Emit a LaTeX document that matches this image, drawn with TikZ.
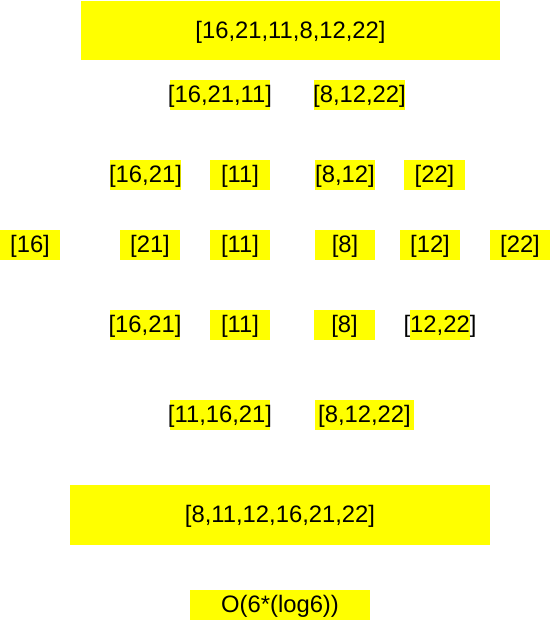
\documentclass[tikz,border=0pt]{standalone}
\usepackage{fontspec}
\setmainfont{Liberation Sans}
\definecolor{ylw}{HTML}{FFFF00}
\newcommand\ycell[6]{%
  \node[box,minimum width=#4pt,minimum height=#5pt] (#1) at (#2,#3) {};
  \node[lbl] (#1t) at ([yshift=-1.5pt]#1.center) {#6};}
\begin{document}
\begin{tikzpicture}[x=1pt,y=-1pt,
  box/.style={fill=ylw,draw=none,inner sep=0pt,outer sep=0pt},
  lbl/.style={inner sep=0pt,font=\fontsize{23.8}{28}\selectfont,text=black}]
\useasboundingbox (0,0) rectangle (551,621);
% row 1
\ycell{a}{290.5}{30.5}{419}{59}{[16,21,11,8,12,22]}
% row 2
\ycell{b1}{220}{95}{100}{30}{[16,21,11]}
\ycell{b2}{359.5}{95}{91}{30}{[8,12,22]}
% row 3
\ycell{c1}{145.5}{175}{71}{30}{[16,21]}
\ycell{c2}{240}{175}{60}{30}{[11]}
\ycell{c3}{345}{175}{60}{30}{[8,12]}
\ycell{c4}{434.5}{175}{61}{30}{[22]}
% row 4
\ycell{d1}{30}{245}{60}{30}{[16]}
\ycell{d2}{150}{245}{60}{30}{[21]}
\ycell{d3}{240}{245}{60}{30}{[11]}
\ycell{d4}{345}{245}{60}{30}{[8]}
\ycell{d5}{430}{245}{60}{30}{[12]}
\ycell{d6}{520}{245}{60}{30}{[22]}
% row 5
\ycell{e1}{145}{325}{70}{30}{[16,21]}
\ycell{e2}{240}{325}{60}{30}{[11]}
\ycell{e3}{344.5}{325}{61}{30}{[8]}
\ycell{e4}{440}{325}{60}{30}{[12,22]}
% row 6
\ycell{f1}{220}{415}{100}{30}{[11,16,21]}
\ycell{f2}{364.5}{415}{99}{30}{[8,12,22]}
% row 7
\ycell{g}{280}{515}{420}{60}{[8,11,12,16,21,22]}
% row 8
\ycell{h}{280}{605}{180}{30}{O(6*(log6))}
\end{tikzpicture}
\end{document}
